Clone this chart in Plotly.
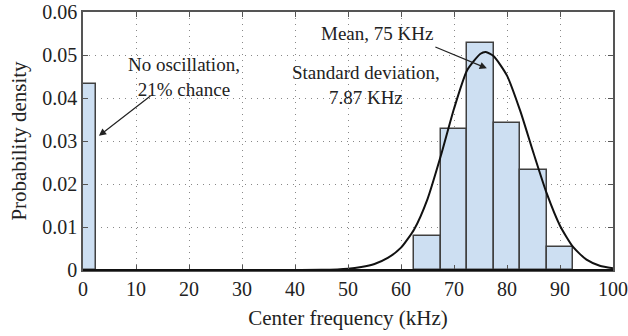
import plotly.graph_objects as go

# Histogram bins (kHz) and probability densities
bin_left = [0, 62.5, 67.5, 72.5, 77.5, 82.5, 87.5]
bin_width = [2.5, 5, 5, 5, 5, 5, 5]
density = [0.0432, 0.0079, 0.0328, 0.0529, 0.0343, 0.0232, 0.0054]

# Fitted normal curve
curve_x = [0, 10, 20, 30, 40, 45, 50, 52.5, 55, 57.5, 60, 62.5, 65, 67.5, 70, 72.5,
           75, 76, 77.5, 80, 82.5, 85, 87.5, 90, 92.5, 95, 97.5, 100]
curve_y = [0, 0, 0, 0, 0, 0.00003, 0.0003, 0.0007, 0.0014, 0.0028, 0.0052, 0.0095,
           0.0165, 0.0265, 0.0375, 0.0465, 0.0503, 0.0507, 0.0497, 0.0452, 0.0370,
           0.0272, 0.0178, 0.0103, 0.0053, 0.0024, 0.0010, 0.0004]

x_ticks = [0, 10, 20, 30, 40, 50, 60, 70, 80, 90, 100]
y_ticks = [0, 0.01, 0.02, 0.03, 0.04, 0.05, 0.06]
y_tick_text = ["0", "0.01", "0.02", "0.03", "0.04", "0.05", "0.06"]

FONT = "Liberation Serif, DejaVu Serif, serif"
TXT = "#222222"

fig = go.Figure()
fig.add_trace(go.Bar(
    x=bin_left, y=density, width=bin_width, offset=0,
    marker=dict(color="#cddff2", line=dict(color="#404040", width=1.5)),
    showlegend=False,
))
fig.add_trace(go.Scatter(
    x=curve_x, y=curve_y, mode="lines",
    line=dict(color="#111111", width=2, shape="spline", smoothing=0.6),
    showlegend=False,
))

ann_font = dict(family=FONT, size=19, color=TXT)
# arrows
fig.add_annotation(x=3.0, y=0.0312, ax=53, ay=-41,
                   text="", showarrow=True, arrowhead=2, arrowsize=1.2, arrowwidth=1.2,
                   arrowcolor=TXT)
fig.add_annotation(x=76.2, y=0.0469, ax=-53, ay=-22,
                   text="", showarrow=True, arrowhead=2, arrowsize=1.2, arrowwidth=1.2,
                   arrowcolor=TXT)
labels = [
    ("No oscillation,<br>21% chance", 19.1, 0.0450),
    ("Mean, 75 KHz", 55.5, 0.0551),
    ("Standard deviation,<br>7.87 KHz", 53.4, 0.0431),
]
for t, lx, ly in labels:
    fig.add_annotation(x=lx, y=ly, text=t, showarrow=False, font=ann_font,
                       xanchor="center", yanchor="middle", align="center")

axis_common = dict(
    showline=True, linecolor="#555555", linewidth=1.5, mirror="ticks",
    ticks="inside", ticklen=5, tickcolor="#555555",
    showgrid=True, gridcolor="#888888", griddash="1px,5px", gridwidth=1,
    zeroline=False, automargin=False,
    tickfont=dict(family=FONT, size=20, color=TXT),
)

fig.update_xaxes(range=[0, 100], tickvals=x_ticks, **axis_common,
                 title=dict(text="Center frequency (kHz)", font=dict(family=FONT, size=21, color=TXT), standoff=12))
fig.update_yaxes(range=[0, 0.06], tickvals=y_ticks, ticktext=y_tick_text, **axis_common,
                 title=dict(text="Probability density", font=dict(family=FONT, size=21, color=TXT), standoff=10))

# thicker black bottom axis line
fig.add_shape(type="line", xref="paper", yref="paper", x0=0, x1=1, y0=0, y1=0,
              line=dict(color="#111111", width=2.2))

fig.update_layout(
    width=628, height=336,
    margin=dict(l=83, r=15, t=12, b=66),
    plot_bgcolor="white", paper_bgcolor="white",
    bargap=0,
)

fig.write_html("out.html")
